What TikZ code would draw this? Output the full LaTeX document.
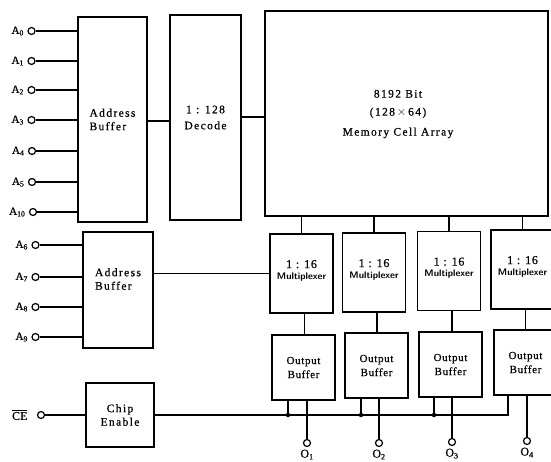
\documentclass[tikz,border=0pt]{standalone}
\usepackage{fontspec}
\setmainfont[FakeBold=0.6]{Liberation Serif}
\newfontfamily\spaced[LetterSpace=12,FakeBold=0.6]{Liberation Serif}
\newfontfamily\ospaced[LetterSpace=6,FakeBold=0.6]{Liberation Serif}
\begin{document}
\begin{tikzpicture}[x=1pt,y=-1pt,line width=1.1pt,
  box/.style={draw,line width=1.5pt,inner sep=0pt,align=center,
    font=\spaced\fontsize{11.5}{13.5}\selectfont},
  obox/.style={box,font=\ospaced\fontsize{11}{14}\selectfont},
  mbox/.style={box,font=\fontsize{9}{12}\selectfont},
  txt/.style={align=left,inner sep=0pt,font=\spaced\fontsize{11.5}{13.5}\selectfont},
  pin/.style={circle,draw,line width=1.2pt,minimum size=7pt,inner sep=0pt,fill=white},
  lbl/.style={font=\fontsize{11}{12}\selectfont,inner sep=1pt},
  dot/.style={circle,fill,inner sep=0pt,minimum size=4.5pt}]
\useasboundingbox (0,0) rectangle (551,462);

% blocks
\node[box,minimum width=69pt,minimum height=205pt,align=left] (ab1) at (112.5,119.5) {Address\\Buffer};
\node[box,minimum width=71pt,minimum height=205pt,font=\spaced\fontsize{11.5}{16}\selectfont] (dec) at (205.5,117.5) {1 : 128\\Decode};
\node[box,minimum width=283pt,minimum height=205pt] (mem) at (406.5,113.5) {};
\node[font=\spaced\fontsize{11.5}{15}\selectfont,align=center] (memtxt) at (398,114) {8192 Bit\\[3pt](128\,$\times$\,64)\\[5pt]Memory Cell Array};
\node[box,minimum width=70pt,minimum height=116pt] (ab2) at (118,290) {};
\node[txt] (ab2txt) at (118,279) {Address\\Buffer};
\node[box,minimum width=68pt,minimum height=64pt] (ce) at (120,415) {Chip\\Enable};

\foreach \n/\cx/\cy in {1/301.5/273.5,2/374/272.5,3/449/271,4/522.5/269.5}{
  \node[mbox,minimum width=63pt,minimum height=79pt] (mux\n) at (\cx,\cy) {};
  \node[align=center,inner sep=0pt] (mt\n) at (\cx,\cy-3) {{\ospaced\fontsize{12}{13}\selectfont 1 : 16}\\[-1pt]{\sffamily\bfseries\fontsize{9.5}{10}\selectfont Multiplexer}};
}
\foreach \n/\cx/\cy in {1/303.5/367.5,2/376.5/365.5,3/450.5/364.5,4/525.5/362.5}{
  \node[obox,minimum width=63pt,minimum height=65pt] (ob\n) at (\cx,\cy) {Output\\Buffer};
}

% input pins
\foreach \nm/\sub/\px/\py in {a0/0/31.5/31,a1/1/31.5/61,a2/2/31.5/90,a3/3/31.5/120,a4/4/32/151,a5/5/32/182,a10/10/33/212}{
  \node[pin,label={[lbl,label distance=2pt]left:A\textsubscript{\sub}}] (\nm) at (\px,\py) {};
  \draw (\nm) -- (\nm -| ab1.west);
}
\foreach \nm/\sub/\py in {a6/6/245,a7/7/277,a8/8/307,a9/9/337}{
  \node[pin,label={[lbl,label distance=2pt]left:A\textsubscript{\sub}}] (\nm) at (35.5,\py) {};
  \draw (\nm) -- (\nm -| ab2.west);
}
\node[pin,label={[font=\fontsize{12}{13}\selectfont,inner sep=1pt,label distance=8pt]left:$\overline{\mbox{CE}}$}] (cepin) at (41,415) {};
\draw (cepin) -- (ce.west);

% internal connections
\draw (ab1.east |- 0,121) coordinate (q1) -- (q1 -| dec.west);
\draw (dec.east |- 0,117) coordinate (q2) -- (q2 -| mem.west);
\draw (ab2.east |- mux1.west) -- (mux1.west);
\foreach \n in {1,2,3,4}{
  \draw (mux\n.north) -- (mux\n.north |- mem.south);
  \draw ([xshift=3pt]mux\n.south) -- ([xshift=3pt]mux\n.south |- ob\n.north);
}

% chip enable bus
\coordinate (bend) at (508,415);
\draw (ce.east) -- (bend) -- (bend |- ob4.south);
\foreach \n/\tx in {1/288,2/361,3/434}{
  \node[dot] (t\n) at (\tx,415) {};
  \draw (t\n.center) -- (t\n.center |- ob\n.south);
}

% outputs
\foreach \n/\ox/\oy in {1/307/443,2/379/443,3/452/442,4/527/441}{
  \node[pin,label={[font=\fontsize{12}{13}\selectfont,inner sep=1pt,label distance=1pt]below:O\textsubscript{\n}}] (o\n) at (\ox,\oy) {};
  \draw (o\n) -- (o\n |- ob\n.south);
}
\end{tikzpicture}
\end{document}
